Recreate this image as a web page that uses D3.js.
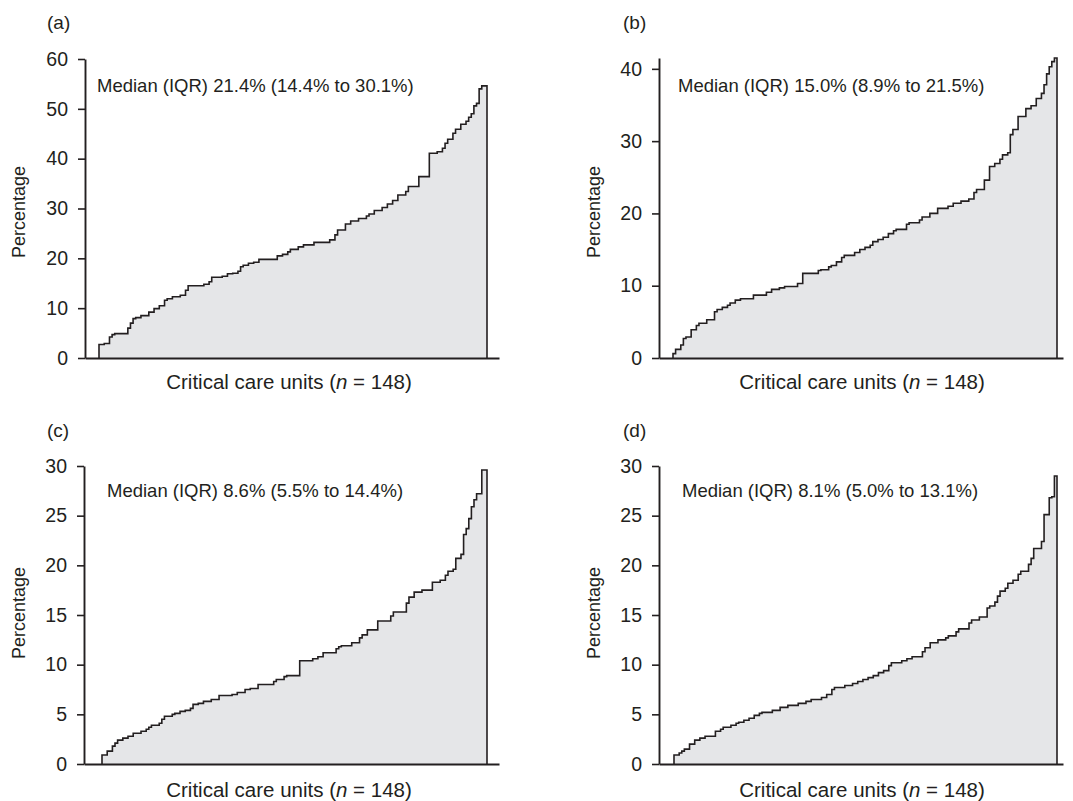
<!DOCTYPE html>
<html>
<head>
<meta charset="utf-8">
<script src="https://cdn.jsdelivr.net/npm/d3@7"></script>
<style>
  html, body { margin: 0; padding: 0; background: #fff; }
  svg { display: block; }
  text { font-family: "Liberation Sans", Arial, Helvetica, sans-serif; fill: #231f20; }
</style>
</head>
<body>
<svg id="chart" width="1073" height="801"></svg>
<script>
// ---- Data (sorted unit percentages, n = 148 per panel) ----
const valuesA = [
  2.7,2.7,2.9,2.9,4.2,4.7,4.9,4.9,4.9,4.9,
  4.9,6.0,7.0,7.9,8.1,8.1,8.5,8.5,8.5,9.2,
  9.2,9.9,9.9,10.5,10.5,11.6,11.9,11.9,12.3,12.3,
  12.3,12.6,12.6,13.6,14.5,14.5,14.5,14.5,14.5,14.5,
  14.8,14.8,15.3,16.2,16.2,16.2,16.2,16.4,16.4,16.9,
  16.9,17.0,17.0,17.4,18.3,18.6,18.6,19.0,19.0,19.2,
  19.2,19.8,19.8,19.8,19.8,19.8,19.8,19.8,20.5,20.5,
  20.8,20.8,21.3,21.8,21.8,21.8,22.3,22.3,22.7,22.7,
  22.7,22.7,23.2,23.2,23.2,23.2,23.2,23.2,23.7,23.7,
  24.7,25.7,25.7,25.7,26.9,26.9,27.5,27.5,27.5,28.0,
  28.0,28.0,28.5,28.9,28.9,29.6,29.6,29.6,30.2,30.2,
  30.9,30.9,31.6,31.6,32.7,32.7,32.7,33.4,34.4,34.4,
  34.4,34.4,36.4,36.4,36.4,36.4,41.1,41.1,41.1,41.4,
  41.4,42.1,43.1,43.9,43.9,45.1,45.9,45.9,46.9,46.9,
  47.5,48.3,49.0,50.6,51.1,54.0,54.6,54.6
];
const valuesB = [
  0.6,1.2,1.2,1.8,2.7,2.9,2.9,3.9,3.9,4.5,
  4.8,4.8,4.8,5.3,5.3,5.3,6.4,6.7,6.7,7.0,
  7.0,7.3,7.6,7.6,8.0,8.0,8.2,8.2,8.2,8.2,
  8.2,8.7,8.7,8.7,8.7,8.7,9.1,9.1,9.5,9.5,
  9.5,9.7,9.7,9.9,9.9,9.9,9.9,9.9,10.3,10.3,
  11.7,11.7,11.7,11.7,11.7,11.7,12.1,12.2,12.2,12.2,
  12.6,12.8,12.8,13.3,13.3,13.9,14.2,14.2,14.2,14.2,
  14.6,14.6,15.0,15.0,15.3,15.3,15.6,16.1,16.1,16.4,
  16.4,16.7,16.7,17.2,17.2,17.6,17.8,17.8,17.8,17.8,
  18.5,18.7,18.7,18.7,18.7,19.1,19.5,19.5,19.5,20.0,
  20.0,20.0,20.7,20.7,20.7,20.7,21.0,21.0,21.4,21.4,
  21.4,21.7,21.7,21.7,22.0,22.0,22.9,23.3,23.3,23.3,
  24.6,24.6,26.5,26.5,26.9,26.9,27.5,28.1,28.1,28.4,
  30.9,31.6,31.6,33.4,33.4,33.4,34.5,34.5,34.9,34.9,
  35.9,35.9,36.6,37.8,39.3,40.3,41.0,41.5
];
const valuesC = [
  0.9,0.9,1.3,1.3,1.8,2.1,2.4,2.4,2.6,2.6,
  2.8,2.8,3.1,3.1,3.1,3.3,3.3,3.5,3.7,3.9,
  3.9,3.9,4.1,4.5,4.8,4.8,4.8,5.0,5.1,5.1,
  5.3,5.3,5.4,5.4,5.6,6.0,6.0,6.1,6.1,6.3,
  6.3,6.3,6.5,6.5,6.5,6.9,6.9,6.9,6.9,6.9,
  7.0,7.0,7.2,7.2,7.2,7.5,7.5,7.6,7.6,7.6,
  8.0,8.0,8.0,8.0,8.0,8.0,8.3,8.5,8.5,8.5,
  8.8,8.9,8.9,8.9,8.9,8.9,10.4,10.4,10.4,10.4,
  10.4,10.6,10.6,10.8,10.8,11.2,11.2,11.2,11.2,11.2,
  11.6,11.8,11.9,11.9,11.9,11.9,12.2,12.2,12.2,12.7,
  13.0,13.0,13.5,13.5,13.5,13.5,14.4,14.4,14.4,14.4,
  14.4,14.9,15.3,15.3,15.3,15.3,15.3,16.2,16.8,16.8,
  17.3,17.3,17.3,17.5,17.5,17.5,17.5,18.3,18.3,18.3,
  18.5,18.5,19.0,19.4,19.4,19.6,20.7,20.7,21.1,23.1,
  23.7,24.7,25.9,26.6,27.2,27.2,29.6,29.6
];
const valuesD = [
  0.9,0.9,1.1,1.3,1.5,1.5,2.0,2.0,2.4,2.4,
  2.6,2.6,2.8,2.8,2.8,2.8,3.3,3.3,3.5,3.7,
  3.7,3.7,3.9,3.9,4.1,4.2,4.2,4.4,4.4,4.6,
  4.6,4.9,4.9,5.1,5.2,5.2,5.2,5.2,5.4,5.4,
  5.4,5.7,5.7,5.7,5.9,5.9,5.9,5.9,6.1,6.1,
  6.1,6.3,6.3,6.5,6.5,6.5,6.5,6.7,6.7,7.0,
  7.0,7.5,7.7,7.7,7.7,7.7,7.9,7.9,7.9,8.1,
  8.1,8.3,8.3,8.5,8.5,8.7,8.7,8.9,8.9,9.2,
  9.2,9.4,9.4,9.9,10.2,10.2,10.2,10.2,10.4,10.4,
  10.6,10.6,10.8,10.8,10.8,10.8,11.3,11.7,11.7,12.2,
  12.2,12.2,12.5,12.5,12.5,12.7,12.9,12.9,12.9,13.3,
  13.6,13.6,13.6,13.6,14.2,14.5,14.5,14.5,14.8,14.8,
  14.8,15.7,15.9,15.9,16.3,16.9,17.4,17.4,17.7,18.2,
  18.2,18.5,18.5,19.1,19.4,19.4,19.4,20.1,20.7,21.7,
  21.7,21.7,22.4,25.1,25.1,26.8,26.9,29.0
];

const panelLabels = ["(a)", "(b)", "(c)", "(d)"];
const medianTexts = [
  "Median (IQR) 21.4% (14.4% to 30.1%)",
  "Median (IQR) 15.0% (8.9% to 21.5%)",
  "Median (IQR) 8.6% (5.5% to 14.4%)",
  "Median (IQR) 8.1% (5.0% to 13.1%)"
];
const ticksA = [0, 10, 20, 30, 40, 50, 60];
const ticksB = [0, 10, 20, 30, 40];
const ticksC = [0, 5, 10, 15, 20, 25, 30];
const ticksD = [0, 5, 10, 15, 20, 25, 30];
const yMaxes = [60, 41.5, 30, 30];
const nUnits = 148;
const yTitle = "Percentage";

// ---- Layout (positions only) ----
const layout = [
  { axisX: 85,  y0: 358, yTop: 59,   dx0: 99,  dx1: 487,  xEnd: 499,  lab: [47, 29],  med: [97, 92],  xl: [289, 389], yl: [25, 212] },
  { axisX: 659, y0: 358, yTop: 58,   dx0: 673, dx1: 1057, xEnd: 1063, lab: [623, 29], med: [678, 92], xl: [862, 389], yl: [600, 212] },
  { axisX: 84,  y0: 764, yTop: 466,  dx0: 102, dx1: 487,  xEnd: 499,  lab: [47, 437], med: [107, 497], xl: [289, 797], yl: [25, 613] },
  { axisX: 659, y0: 764, yTop: 466,  dx0: 674, dx1: 1057, xEnd: 1063, lab: [623, 437], med: [682, 497], xl: [862, 797], yl: [600, 613] }
];

const allValues = [valuesA, valuesB, valuesC, valuesD];
const allTicks = [ticksA, ticksB, ticksC, ticksD];
const ink = "#231f20";

const svg = d3.select("#chart");

allValues.forEach((vals, p) => {
  const L = layout[p];
  const g = svg.append("g");

  const x = d3.scaleLinear().domain([0, nUnits]).range([L.dx0, L.dx1]);
  const y = d3.scaleLinear().domain([0, yMaxes[p]]).range([L.y0, L.yTop]);

  // Step outline points
  const pts = [[0, 0]];
  vals.forEach((v, i) => pts.push([i, v]));
  pts.push([nUnits, vals[vals.length - 1]]);
  pts.push([nUnits, 0]);

  const area = d3.area()
    .x(d => x(d[0]))
    .y0(y(0))
    .y1(d => y(d[1]))
    .curve(d3.curveStepAfter);

  const line = d3.line()
    .x(d => x(d[0]))
    .y(d => y(d[1]))
    .curve(d3.curveStepAfter);

  g.append("path").datum(pts).attr("d", area)
    .attr("fill", "#e5e6e8").attr("stroke", "none");
  g.append("path").datum(pts).attr("d", line)
    .attr("fill", "none").attr("stroke", ink).attr("stroke-width", 1.6)
    .attr("stroke-linejoin", "miter");

  // x axis baseline (no ticks)
  const xAxisScale = d3.scaleLinear()
    .domain([x.invert(L.axisX), x.invert(L.xEnd)])
    .range([L.axisX, L.xEnd]);
  const xa = g.append("g").attr("transform", `translate(0,${L.y0})`)
    .call(d3.axisBottom(xAxisScale).tickValues([]).tickSizeOuter(0));
  xa.select(".domain").attr("stroke", ink).attr("stroke-width", 1.9);

  // y axis
  const ya = g.append("g").attr("transform", `translate(${L.axisX},0)`)
    .call(d3.axisLeft(y).tickValues(allTicks[p]).tickSize(7).tickPadding(10).tickSizeOuter(0));
  ya.select(".domain").attr("stroke", ink).attr("stroke-width", 1.9);
  ya.selectAll(".tick line").attr("stroke", ink).attr("stroke-width", 1.6);
  ya.selectAll(".tick text")
    .attr("font-size", 19.5)
    .style("font-family", '"Liberation Sans", Arial, Helvetica, sans-serif')
    .attr("fill", ink);

  // panel label
  g.append("text").attr("x", L.lab[0]).attr("y", L.lab[1])
    .attr("font-size", 19).text(panelLabels[p]);

  // median text
  g.append("text").attr("x", L.med[0]).attr("y", L.med[1])
    .attr("font-size", 18.5).text(medianTexts[p]);

  // x title
  const xt = g.append("text").attr("x", L.xl[0]).attr("y", L.xl[1])
    .attr("font-size", 20.5).attr("text-anchor", "middle");
  xt.append("tspan").text("Critical care units (");
  xt.append("tspan").attr("font-style", "italic").text("n");
  xt.append("tspan").text(" = 148)");

  // y title
  g.append("text")
    .attr("transform", `translate(${L.yl[0]},${L.yl[1]}) rotate(-90)`)
    .attr("text-anchor", "middle").attr("font-size", 18)
    .text(yTitle);
});
</script>
</body>
</html>
